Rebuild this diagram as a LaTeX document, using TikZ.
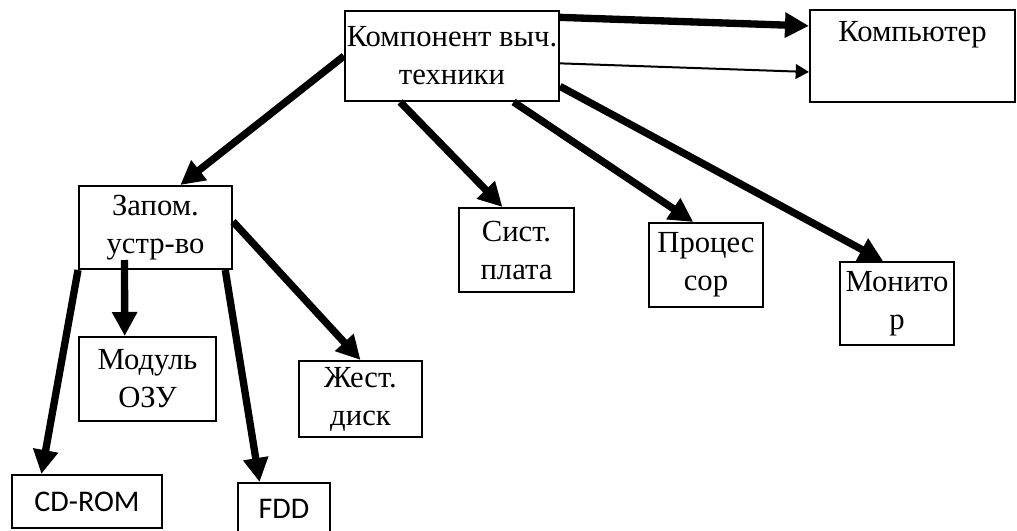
\documentclass[tikz,border=0pt]{standalone}
\usepackage{fontspec}
\setmainfont{Liberation Serif}
\newfontfamily\calibri{Carlito}
\usetikzlibrary{arrows.meta,calc}

\begin{document}
\begin{tikzpicture}[x=0.75pt, y=-0.75pt,
    box/.style={draw, line width=1.5pt, inner sep=0pt, align=center,
      font=\fontsize{23}{28.5}\selectfont},
    sansbox/.style={box, font=\calibri\fontsize{22.5}{28.5}\selectfont},
    fat/.style={line width=5.5pt, -{Triangle[length=18pt, width=18pt]}},
    thin/.style={line width=1.5pt, -{Triangle[length=10pt, width=11pt]}}]
    \clip (0,0) rectangle (1017,531);

    \node[box, minimum width=160.5pt, minimum height=67.5pt] (komp) at (452,56) {Компонент выч.\\техники};
    \node[box, minimum width=153.75pt, minimum height=69pt] (comp) at (912.5,56) {Компьютер\\\strut};

    \node[box, minimum width=114.75pt, minimum height=62.25pt] (zap) at (155.5,227.5) {Запом.\\устр-во};
    \node[box, minimum width=86.25pt, minimum height=63pt] (sist) at (516.5,250) {Сист.\\плата};
    \node[box, minimum width=85.5pt, minimum height=63pt] (proc) at (706,265) {Процес\\сор};
    \node[box, minimum width=85.5pt, minimum height=62.25pt] (mon) at (897,303.5) {Монито\\р};

    \node[box, minimum width=102.75pt, minimum height=63pt] (ozu) at (147.5,379) {Модуль\\ОЗУ};
    \node[box, minimum width=92.25pt, minimum height=57pt] (gest) at (360.5,399) {Жест.\\диск};
    \node[sansbox, minimum width=112.5pt, minimum height=39.75pt] (cdrom) at (87,501.5) {CD-ROM};
    \node[sansbox, minimum width=69pt, minimum height=39pt] (fdd) at (284,509) {FDD};

    % Arrows
    \draw[fat] ($(komp.north east)!0.08!(komp.south east)$) -- ($(comp.north west)!0.18!(comp.south west)$);
    \draw[thin] ($(komp.north east)!0.58!(komp.south east)$) -- ($(comp.north west)!0.67!(comp.south west)$);

    \draw[fat] (komp.west) -- ($(zap.north west)!0.66!(zap.north east)$);
    \draw[fat] ($(komp.south west)!0.26!(komp.south east)$) -- ($(sist.north west)!0.38!(sist.north east)$);
    \draw[fat] ($(komp.south west)!0.785!(komp.south east)$) -- ($(proc.north west)!0.39!(proc.north east)$);
    \draw[fat] ($(komp.north east)!0.83!(komp.south east)$) -- ($(mon.north west)!0.38!(mon.north east)$);

    \draw[fat] (zap.south west) -- ($(cdrom.north west)!0.2!(cdrom.north east)$);
    \draw[fat] ($(zap.south west)!0.3!(zap.south east)+(0,-10)$) -- ($(ozu.north west)!0.336!(ozu.north east)$);
    \draw[fat] ($(zap.south west)!0.95!(zap.south east)$) -- ($(fdd.north west)!0.24!(fdd.north east)$);
    \draw[fat] ($(zap.north east)!0.43!(zap.south east)$) -- (gest.north);

\end{tikzpicture}
\end{document}
